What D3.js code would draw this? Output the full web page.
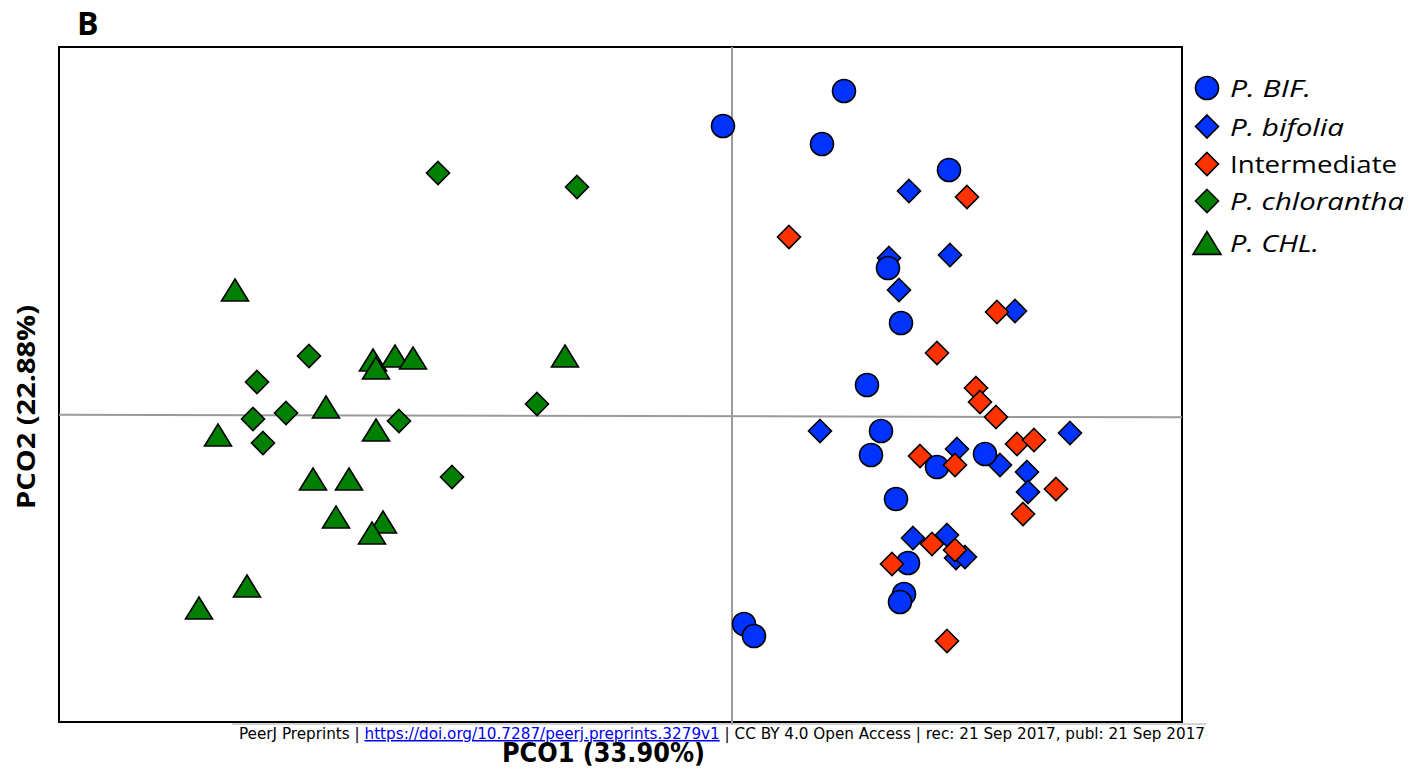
<!DOCTYPE html>
<html>
<head>
<meta charset="utf-8">
<script src="https://cdn.jsdelivr.net/npm/d3@7/dist/d3.min.js"></script>
<style>
  html, body { margin: 0; padding: 0; background: #ffffff; }
  svg { display: block; }
</style>
</head>
<body>
<svg id="chart" width="1411" height="769"></svg>
<script>
// PCO ordination scores (PCO1, PCO2) for each group
const pBIF = [
  [1.12, 3.25], [-0.09, 2.90], [0.90, 2.72], [2.17, 2.46], [1.56, 1.48], [1.69, 0.93],
  [1.35, 0.31], [1.49, -0.15], [1.39, -0.39], [2.05, -0.51], [2.53, -0.38], [1.64, -0.83],
  [1.76, -1.47], [1.72, -1.78], [1.68, -1.86], [0.12, -2.08], [0.22, -2.20]
];
const pBifolia = [
  [1.77, 2.25], [1.57, 1.58], [2.18, 1.61], [1.67, 1.26], [2.83, 1.05], [0.88, -0.15],
  [2.25, -0.33], [2.68, -0.49], [2.95, -0.56], [2.96, -0.76], [3.38, -0.17], [1.81, -1.22],
  [2.15, -1.19], [2.24, -1.42], [2.33, -1.41]
];
const intermediate = [
  [0.57, 1.79], [2.35, 2.19], [2.65, 1.04], [2.05, 0.63], [2.44, 0.28], [2.48, 0.14],
  [2.64, -0.01], [2.85, -0.28], [3.02, -0.24], [3.24, -0.73], [2.91, -0.98], [1.88, -0.40],
  [2.23, -0.49], [2.00, -1.28], [2.23, -1.34], [1.60, -1.48], [2.15, -2.25]
];
const pChlorantha = [
  [-2.94, 2.43], [-1.55, 2.29], [-4.23, 0.60], [-4.75, 0.34], [-4.46, 0.03], [-4.79, -0.03],
  [-4.69, -0.27], [-3.33, -0.05], [-1.95, 0.12], [-2.80, -0.61]
];
const pCHL = [
  [-4.97, 1.26], [-3.59, 0.56], [-3.37, 0.60], [-3.19, 0.58], [-3.56, 0.48], [-1.67, 0.60],
  [-4.06, 0.09], [-5.14, -0.19], [-3.56, -0.14], [-4.19, -0.63], [-3.83, -0.63], [-3.96, -1.01],
  [-3.49, -1.06], [-3.60, -1.17], [-4.85, -1.70], [-5.33, -1.92]
];

const legendLabels = ["P. BIF.", "P. bifolia", "Intermediate", "P. chlorantha", "P. CHL."];
const xTitle = "PCO1 (33.90%)";
const yTitle = "PCO2 (22.88%)";
const panelLabel = "B";
const footerParts = [
  "PeerJ Preprints | ",
  "https://doi.org/10.7287/peerj.preprints.3279v1",
  " | CC BY 4.0 Open Access | rec: 21 Sep 2017, publ: 21 Sep 2017"
];

// ---- layout ----
const frame = { left: 59, top: 47, right: 1182, bottom: 722 };
const svg = d3.select("#chart");

const x = d3.scaleLinear().domain([-6.73, 4.50]).range([frame.left, frame.right]);
const y = d3.scaleLinear().domain([-3.06, 3.69]).range([frame.bottom, frame.top]);

// marker shapes
const diamond = {
  draw(ctx, size) {
    const h = Math.sqrt(size) / 2;
    ctx.moveTo(0, -h); ctx.lineTo(h, 0); ctx.lineTo(0, h); ctx.lineTo(-h, 0); ctx.closePath();
  }
};
const triangle = {
  draw(ctx, size) {
    const w = Math.sqrt(size) / 2, h = w * 0.815;
    ctx.moveTo(0, -h); ctx.lineTo(w, h); ctx.lineTo(-w, h); ctx.closePath();
  }
};
const circle = {
  draw(ctx, size) {
    const r = Math.sqrt(size) / 2;
    ctx.moveTo(r, 0); ctx.arc(0, 0, r, 0, 2 * Math.PI);
  }
};

const blue = "#0033ff", red = "#ff3300", green = "#008000";

const series = [
  { name: legendLabels[1], data: pBifolia, type: diamond, size: 23 * 23, fill: blue },
  { name: legendLabels[0], data: pBIF, type: circle, size: 23 * 23, fill: blue },
  { name: legendLabels[2], data: intermediate, type: diamond, size: 23 * 23, fill: red },
  { name: legendLabels[3], data: pChlorantha, type: diamond, size: 23 * 23, fill: green },
  { name: legendLabels[4], data: pCHL, type: triangle, size: 27 * 27, fill: green }
];

// frame
svg.append("rect")
  .attr("x", frame.left).attr("y", frame.top)
  .attr("width", frame.right - frame.left).attr("height", frame.bottom - frame.top)
  .attr("fill", "#ffffff").attr("stroke", "#000").attr("stroke-width", 2);

// footer rule
svg.append("line")
  .attr("x1", 232).attr("x2", 1206).attr("y1", 724).attr("y2", 724)
  .attr("stroke", "#c4c4c4").attr("stroke-width", 1.5);

// zero reference lines
svg.append("line")
  .attr("x1", x(0)).attr("x2", x(0)).attr("y1", frame.top).attr("y2", frame.bottom + 2)
  .attr("stroke", "#9a9a9a").attr("stroke-width", 2);
svg.append("line")
  .attr("x1", frame.left).attr("x2", frame.right)
  .attr("y1", y(0) - 1.3).attr("y2", y(0) + 1.3)
  .attr("stroke", "#9a9a9a").attr("stroke-width", 2);

// points
const sym = d3.symbol();
series.forEach(s => {
  svg.append("g").selectAll("path")
    .data(s.data)
    .join("path")
    .attr("transform", d => `translate(${x(d[0])},${y(d[1])})`)
    .attr("d", sym.type(s.type).size(s.size)())
    .attr("fill", s.fill)
    .attr("stroke", "#000")
    .attr("stroke-width", 1.6)
    .attr("stroke-linejoin", "miter");
});

// legend
const legendItems = [
  { label: legendLabels[0], type: circle, size: 23 * 23, fill: blue, italic: true, cy: 88, w: 81 },
  { label: legendLabels[1], type: diamond, size: 23 * 23, fill: blue, italic: true, cy: 126.5, w: 114 },
  { label: legendLabels[2], type: diamond, size: 23 * 23, fill: red, italic: false, cy: 164, w: 167 },
  { label: legendLabels[3], type: diamond, size: 23 * 23, fill: green, italic: true, cy: 201, w: 174 },
  { label: legendLabels[4], type: triangle, size: 28 * 28, fill: green, italic: true, cy: 243, w: 89 }
];
const legend = svg.append("g");
legendItems.forEach(it => {
  legend.append("path")
    .attr("transform", `translate(1207,${it.cy})`)
    .attr("d", d3.symbol().type(it.type).size(it.size)())
    .attr("fill", it.fill).attr("stroke", "#000").attr("stroke-width", 1.6);
  legend.append("text")
    .attr("x", 1230).attr("y", it.cy + 9)
    .attr("font-family", "'Open Sans', sans-serif")
    .attr("font-size", 24.5)
    .attr("font-style", it.italic ? "italic" : "normal")
    .attr("textLength", it.w).attr("lengthAdjust", "spacingAndGlyphs")
    .attr("fill", "#000")
    .text(it.label);
});

// panel label
svg.append("text")
  .attr("x", 77).attr("y", 35)
  .attr("font-family", "'Open Sans', sans-serif").attr("font-weight", 700)
  .attr("font-size", 32).attr("fill", "#000")
  .text(panelLabel);

// axis titles
svg.append("text")
  .attr("transform", "translate(35,407) rotate(-90)")
  .attr("text-anchor", "middle")
  .attr("font-family", "'Open Sans', sans-serif").attr("font-weight", 700)
  .attr("font-size", 25).attr("fill", "#000")
  .attr("textLength", 204).attr("lengthAdjust", "spacingAndGlyphs")
  .text(yTitle);

svg.append("text")
  .attr("x", 603.5).attr("y", 762)
  .attr("text-anchor", "middle")
  .attr("font-family", "'DejaVu Sans Condensed', 'DejaVu Sans', sans-serif").attr("font-weight", 700)
  .attr("font-size", 27).attr("fill", "#000")
  .attr("textLength", 203).attr("lengthAdjust", "spacingAndGlyphs")
  .text(xTitle);

// preprint footer
const footer = svg.append("text")
  .attr("x", 239).attr("y", 739)
  .attr("font-family", "'DejaVu Sans Condensed', 'DejaVu Sans', sans-serif")
  .attr("font-size", 15).attr("fill", "#000")
  .attr("textLength", 966).attr("lengthAdjust", "spacingAndGlyphs");
footer.append("tspan").text(footerParts[0]);
footer.append("tspan").attr("fill", "#0000ee").attr("text-decoration", "underline").text(footerParts[1]);
footer.append("tspan").text(footerParts[2]);
</script>
</body>
</html>
